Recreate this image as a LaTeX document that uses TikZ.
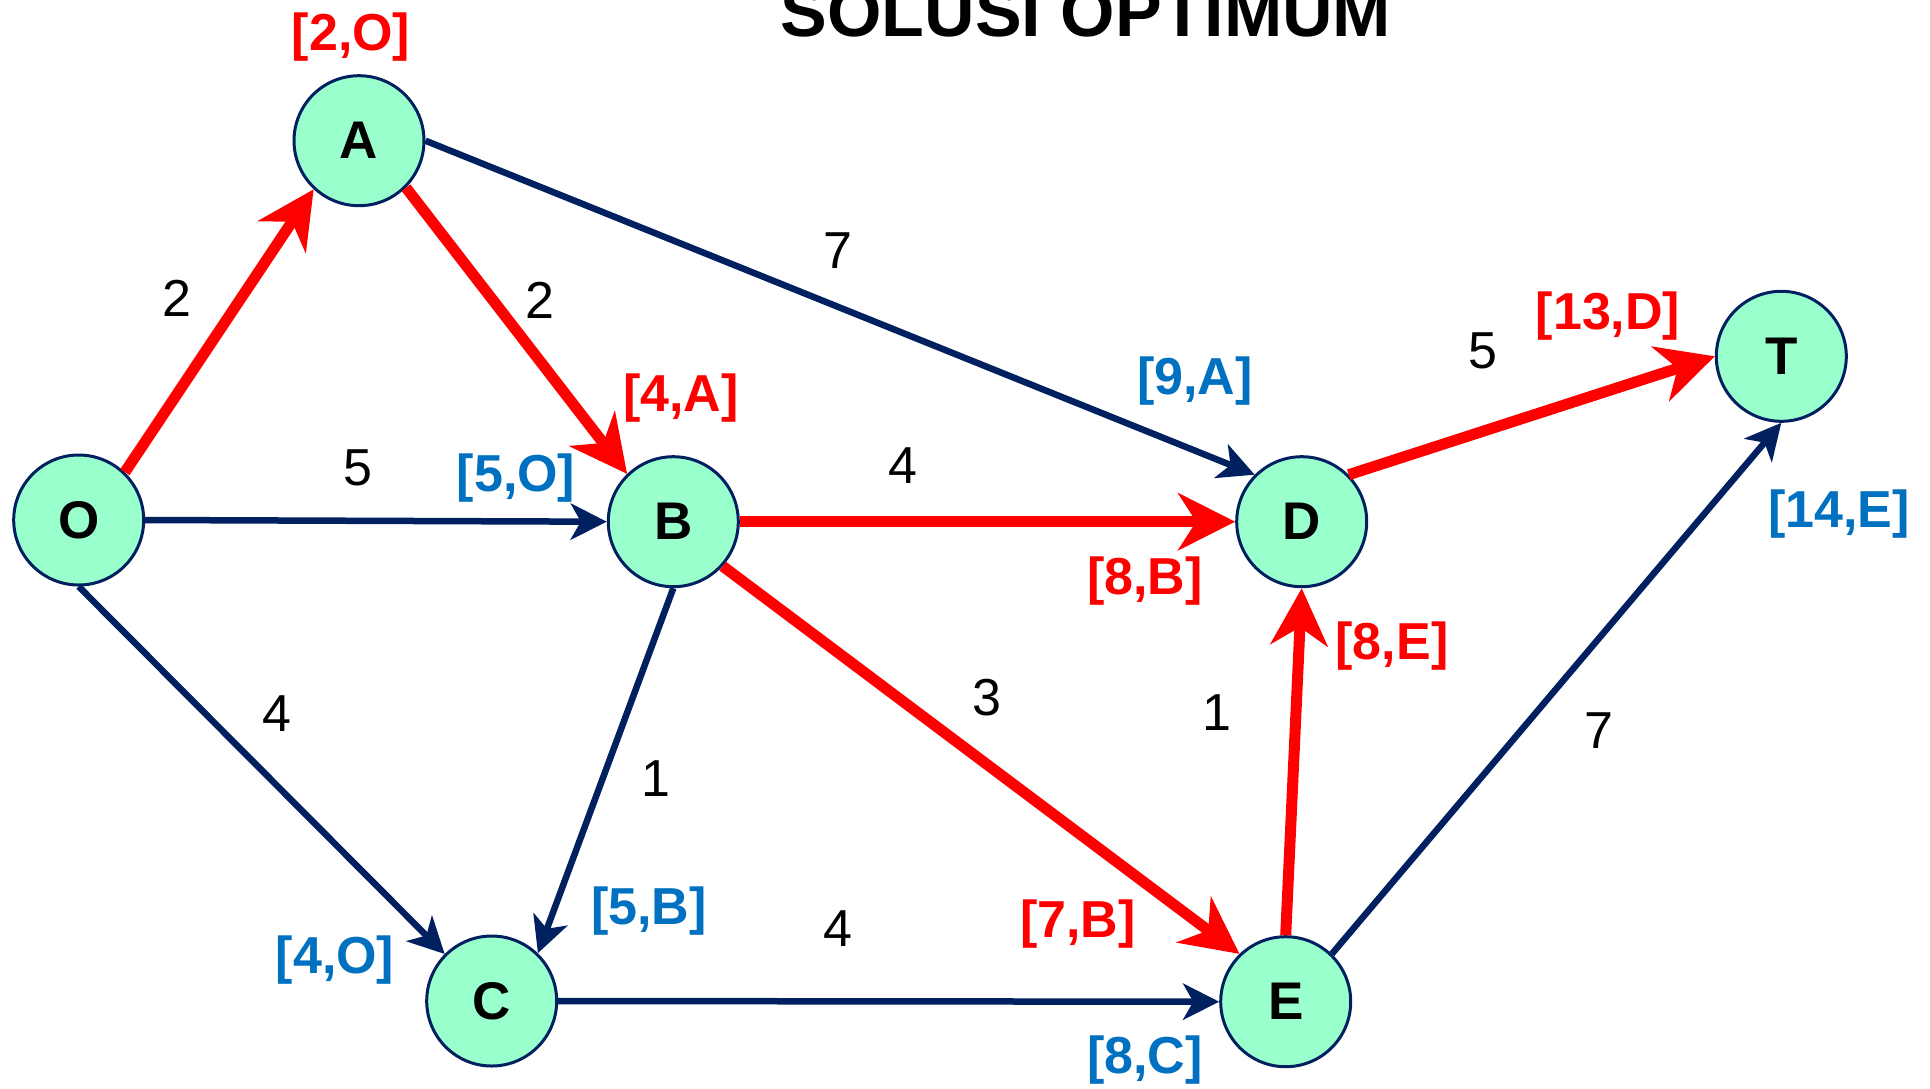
\documentclass[tikz,border=0pt]{standalone}
\usepackage{fontspec}
\setmainfont{Liberation Sans}
\usetikzlibrary{arrows.meta}
\definecolor{navy}{RGB}{0,32,96}
\definecolor{mint}{RGB}{153,255,204}
\definecolor{labblue}{RGB}{0,112,192}
\definecolor{labred}{RGB}{255,0,0}
\begin{document}
\begin{tikzpicture}[x=1pt,y=-1pt,
  vert/.style={circle, draw=navy, line width=3pt, fill=mint, minimum size=130pt, inner sep=0pt,
    font=\fontsize{53}{60}\selectfont\bfseries},
  redlab/.style={text=labred, inner sep=0pt, font=\fontsize{52}{60}\selectfont\bfseries},
  bluelab/.style={text=labblue, inner sep=0pt, font=\fontsize{52}{60}\selectfont\bfseries},
  wt/.style={inner sep=0pt, font=\fontsize{52}{60}\selectfont},
  navarr/.style={draw=navy, line width=6.5pt, -{Stealth[length=36pt,width=36pt,inset=10pt]}},
  redarr/.style={draw=labred, line width=11pt, -{Stealth[length=57pt,width=57pt,inset=18pt]}},
]
\clip (0,0) rectangle (1930,1088);
\fill[white] (0,0) rectangle (1930,1088);

% title (cut off at the top edge, as in the reference)
\node[anchor=base, inner sep=0pt, font=\fontsize{70}{76}\selectfont\bfseries] (title) at (1086,36.5)
  {SOLUSI OPTIMUM};

% vertices
\node[vert] (O) at (78.7,520) {O};
\node[vert] (A) at (359,140.7) {A};
\node[vert] (B) at (673.3,521.7) {B};
\node[vert] (C) at (491.7,1001) {C};
\node[vert] (D) at (1301.7,521.7) {D};
\node[vert] (E) at (1285.7,1001.7) {E};
\node[vert] (T) at (1781.3,356.3) {T};

% navy edges
\draw[navarr] (A.east) -- (D.135);
\draw[navarr] (O.east) -- (B.west);
\draw[navarr] (O.south) -- (C.135);
\draw[navarr] (B.south) -- (C.46);
\draw[navarr] (C.east) -- (E.west);
\draw[navarr] (E.46) -- (T.south);

% red edges
\draw[redarr] (O.46) -- (A.-133);
\draw[redarr] (A.-45) -- (B.134);
\draw[redarr] (B.east) -- (D.west);
\draw[redarr] (B.-42) -- (E.134);
\draw[redarr] (E.north) -- (D.south);
\draw[redarr] (D.45) -- (T.west);

% weights
\node[wt] (wOA) at (177,298) {2};
\node[wt] (wAB) at (540,300) {2};
\node[wt] (wAD) at (838,251) {7};
\node[wt] (wOB) at (358,468) {5};
\node[wt] (wBD) at (903,466) {4};
\node[wt] (wDT) at (1483,351) {5};
\node[wt] (wOC) at (277,714) {4};
\node[wt] (wBC) at (656,779) {1};
\node[wt] (wBE) at (987,698) {3};
\node[wt] (wED) at (1217,713) {1};
\node[wt] (wET) at (1599,731) {7};
\node[wt] (wCE) at (838,929) {4};

% labels
\node[redlab] (lA) at (351,37) {[2,O]};
\node[redlab] (lB) at (681,398) {[4,A]};
\node[bluelab] (lB2) at (516,478) {[5,O]};
\node[bluelab] (lD) at (1195,381) {[9,A]};
\node[redlab] (lD2) at (1145,581) {[8,B]};
\node[redlab] (lD3) at (1392,646) {[8,E]};
\node[redlab] (lT) at (1608,316) {[13,D]};
\node[bluelab] (lT2) at (1839,514) {[14,E]};
\node[bluelab] (lC) at (335,960) {[4,O]};
\node[bluelab] (lC2) at (649,911) {[5,B]};
\node[redlab] (lE) at (1078,924) {[7,B]};
\node[bluelab] (lE2) at (1145,1060) {[8,C]};
\end{tikzpicture}
\end{document}
